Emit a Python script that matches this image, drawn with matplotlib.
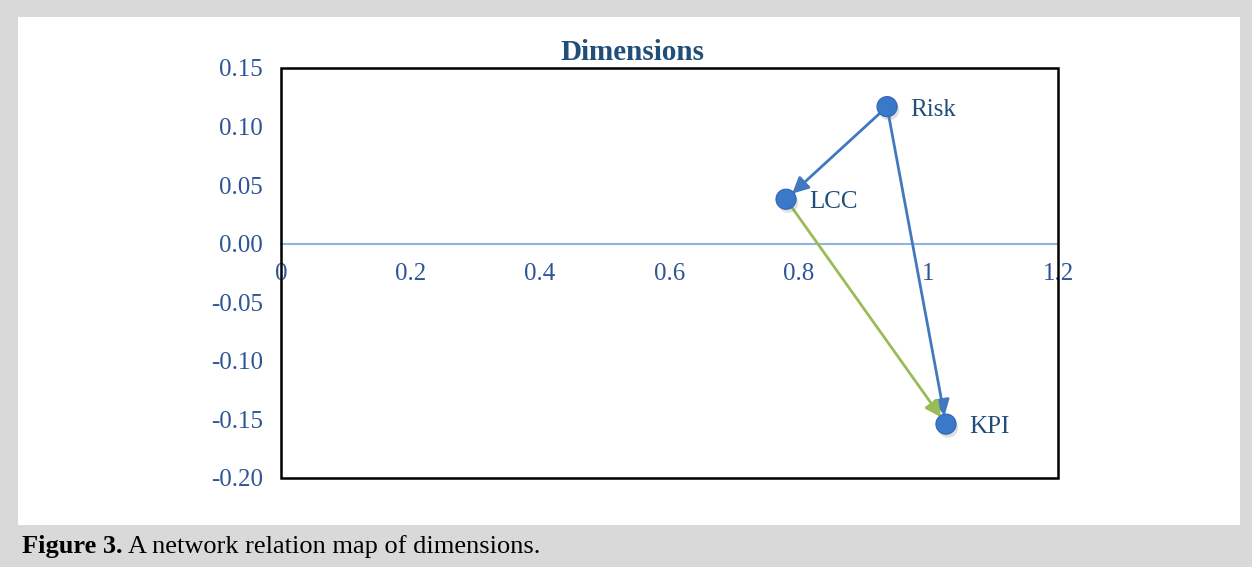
import matplotlib.pyplot as plt
import matplotlib.patheffects as pe
from matplotlib.patches import Rectangle

plt.rcParams['font.family'] = ['Liberation Serif', 'DejaVu Serif']

# dimension coordinates (D+R, D-R)
names = ['Risk', 'LCC', 'KPI']
xs = [0.936, 0.780, 1.027]
ys = [0.117, 0.038, -0.154]
# influence relations: (from, to, colour)
links = [('Risk', 'LCC', '#4178BE'), ('Risk', 'KPI', '#4178BE'), ('LCC', 'KPI', '#9BBB59')]
xticks = [0, 0.2, 0.4, 0.6, 0.8, 1.0, 1.2]
xtick_labels = ['0', '0.2', '0.4', '0.6', '0.8', '1', '1.2']
yticks = [-0.20, -0.15, -0.10, -0.05, 0.0, 0.05, 0.10, 0.15]
ytick_labels = ['-0.20', '-0.15', '-0.10', '-0.05', '0.00', '0.05', '0.10', '0.15']

tick_col = '#2F5597'
lab_col = '#1F4E79'

fig = plt.figure(figsize=(12.52, 5.67), dpi=100)
fig.patch.set_facecolor('#D9D9D9')
fig.add_artist(Rectangle((18 / 1252, 1 - 525 / 567), (1240 - 18) / 1252, (525 - 17) / 567,
                         transform=fig.transFigure, facecolor='white', edgecolor='none', zorder=0))

ax = fig.add_axes([281 / 1252, 1 - 478 / 567, 777 / 1252, 410 / 567])
ax.set_xlim(0, 1.2)
ax.set_ylim(-0.20, 0.15)

for s in ['top', 'right', 'left']:
    ax.spines[s].set_visible(False)
ax.spines['bottom'].set_position(('data', 0))
ax.spines['bottom'].set_color('#8EB4E3')
ax.spines['bottom'].set_linewidth(1.5)
ax.add_patch(Rectangle((0, 0), 1, 1, transform=ax.transAxes, fill=False,
                       edgecolor='black', linewidth=1.8, zorder=5, clip_on=False))

ax.set_xticks(xticks)
ax.set_xticklabels(xtick_labels)
ax.set_yticks(yticks)
ax.set_yticklabels(ytick_labels)
ax.tick_params(axis='x', length=0, pad=14, labelsize=18, labelcolor=tick_col)
ax.tick_params(axis='y', length=0, pad=13, labelsize=18, labelcolor=tick_col)

pos = dict(zip(names, zip(xs, ys)))
for a, b, col in links:
    ax.annotate('', xy=pos[b], xytext=pos[a],
                arrowprops=dict(arrowstyle='-|>', color=col, lw=2, mutation_scale=24,
                                shrinkA=6, shrinkB=6), zorder=3)

ax.scatter(xs, ys, s=210, color='#3A78C9', edgecolor='#2E66B0', linewidth=0.8, zorder=4,
           path_effects=[pe.SimplePatchShadow(offset=(1.5, -2.5), alpha=0.25, shadow_rgbFace='gray'),
                         pe.Normal()])

for n, x, y in zip(names, xs, ys):
    ax.annotate(n, (x, y), xytext=(23, -3), textcoords='offset pixels',
                ha='left', va='center', fontsize=18, color=lab_col)

fig.text(632 / 1252, 1 - 52 / 567, 'Dimensions', ha='center', va='center',
         fontsize=21, fontweight='bold', color=lab_col)

cap = fig.text(22 / 1252, 1 - 547 / 567, 'Figure 3.', ha='left', va='center',
               fontsize=19, fontweight='bold', color='black')
fig.canvas.draw()
bb = cap.get_window_extent()
fig.text(bb.x1 / 1252 + 6 / 1252, 1 - 547 / 567, 'A network relation map of dimensions.',
         ha='left', va='center', fontsize=19, color='black')

fig.savefig('out.png', dpi=100, facecolor=fig.get_facecolor())
